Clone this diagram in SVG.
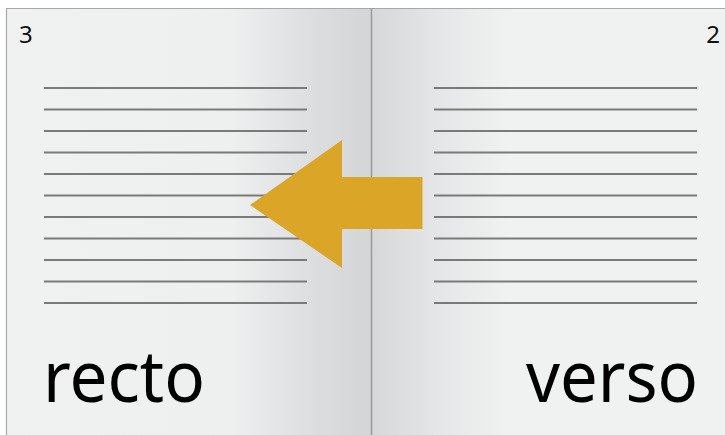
<svg xmlns="http://www.w3.org/2000/svg" width="725" height="435" viewBox="0 0 725 435">
<style>
.ln{stroke:#7a7a7a;stroke-width:2.2;fill:none}
.pn{font-family:"Noto Sans","Open Sans",sans-serif;font-size:24px;fill:#111}
.big{font-family:"Noto Sans","Open Sans",sans-serif;font-size:72px;fill:#000}
</style>
<defs>
<linearGradient id="gl" x1="0" y1="0" x2="1" y2="0">
<stop offset="0" stop-color="#f0f1f1"/>
<stop offset="0.62" stop-color="#eeefef"/>
<stop offset="0.85" stop-color="#dcdddf"/>
<stop offset="1" stop-color="#d4d5d7"/>
</linearGradient>
<linearGradient id="gr" x1="0" y1="0" x2="1" y2="0">
<stop offset="0" stop-color="#d6d7d9"/>
<stop offset="0.2" stop-color="#e6e7e8"/>
<stop offset="0.38" stop-color="#f0f1f1"/>
<stop offset="1" stop-color="#f0f1f1"/>
</linearGradient>
</defs>
<rect width="725" height="435" fill="#ffffff"/>
<g id="left-page">
<rect x="6" y="8" width="365" height="430" fill="url(#gl)"/>
<path d="M6.5 438V8.5H371" stroke="#a8a8a8" stroke-width="1.2" fill="none"/>
<g>
<line class="ln" x1="44" y1="88" x2="307" y2="88"/>
<line class="ln" x1="44" y1="109.5" x2="307" y2="109.5"/>
<line class="ln" x1="44" y1="131" x2="307" y2="131"/>
<line class="ln" x1="44" y1="152.5" x2="307" y2="152.5"/>
<line class="ln" x1="44" y1="174" x2="307" y2="174"/>
<line class="ln" x1="44" y1="195.5" x2="307" y2="195.5"/>
<line class="ln" x1="44" y1="217" x2="307" y2="217"/>
<line class="ln" x1="44" y1="238.5" x2="307" y2="238.5"/>
<line class="ln" x1="44" y1="260" x2="307" y2="260"/>
<line class="ln" x1="44" y1="281.5" x2="307" y2="281.5"/>
<line class="ln" x1="44" y1="303" x2="307" y2="303"/>
</g>
<text class="pn" x="19" y="43">3</text>
<text class="big" x="43" y="402" textLength="162" lengthAdjust="spacingAndGlyphs">recto</text>
</g>
<g id="right-page">
<rect x="371" y="8" width="360" height="430" fill="url(#gr)"/>
<path d="M371 8.5H725" stroke="#a8a8a8" stroke-width="1.2" fill="none"/>
<g>
<line class="ln" x1="434" y1="88" x2="697" y2="88"/>
<line class="ln" x1="434" y1="109.5" x2="697" y2="109.5"/>
<line class="ln" x1="434" y1="131" x2="697" y2="131"/>
<line class="ln" x1="434" y1="152.5" x2="697" y2="152.5"/>
<line class="ln" x1="434" y1="174" x2="697" y2="174"/>
<line class="ln" x1="434" y1="195.5" x2="697" y2="195.5"/>
<line class="ln" x1="434" y1="217" x2="697" y2="217"/>
<line class="ln" x1="434" y1="238.5" x2="697" y2="238.5"/>
<line class="ln" x1="434" y1="260" x2="697" y2="260"/>
<line class="ln" x1="434" y1="281.5" x2="697" y2="281.5"/>
<line class="ln" x1="434" y1="303" x2="697" y2="303"/>
</g>
<text class="pn" x="720" y="43" text-anchor="end">2</text>
<text class="big" x="526" y="402" textLength="172" lengthAdjust="spacingAndGlyphs">verso</text>
</g>
<line id="spine" x1="371.5" y1="8" x2="371.5" y2="435" stroke="#9a9a9a" stroke-width="1.5"/>
<g id="connectors">
<polygon points="250,205 342,140 342,177 422.5,177 422.5,229 342,229 342,268" fill="#dba628"/>
</g>
</svg>
